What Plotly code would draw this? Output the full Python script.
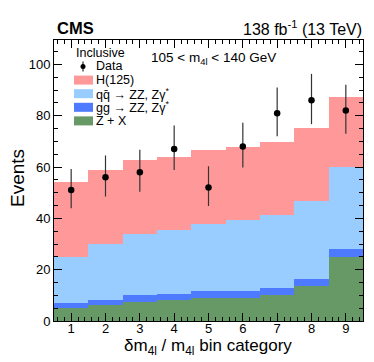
import plotly.graph_objects as go

# Catégories delta m4l / m4l
categories = [1, 2, 3, 4, 5, 6, 7, 8, 9]

# Rendements par processus (empilés)
zx = [4.9, 6.1, 7.4, 8.3, 9.1, 9.0, 10.0, 13.8, 24.9]
gg_zz = [2.3, 2.2, 2.6, 2.4, 2.6, 2.6, 2.9, 2.7, 3.3]
qq_zz = [17.8, 21.8, 24.0, 24.7, 26.2, 27.6, 28.5, 30.2, 31.7]
h125 = [29.2, 28.7, 28.8, 28.7, 28.7, 28.7, 28.4, 28.7, 27.4]

# Données observées et incertitudes (Garwood)
data = [51, 56, 58, 67, 52, 68, 81, 86, 82]
err_up = [8.2, 8.5, 8.7, 9.2, 8.3, 9.3, 10.0, 10.3, 10.1]
err_down = [7.1, 7.5, 7.6, 8.2, 7.2, 8.2, 9.0, 9.3, 9.0]

C_H = "#ff9999"
C_QQ = "#99ccff"
C_GG = "#4d7aff"
C_ZX = "#669966"
FONT = "Liberation Sans, Arial, sans-serif"

fig = go.Figure()
for vals, coul in [(zx, C_ZX), (gg_zz, C_GG), (qq_zz, C_QQ), (h125, C_H)]:
    fig.add_trace(go.Bar(x=categories, y=vals, width=1, marker=dict(color=coul, line=dict(width=0)),
                         showlegend=False, hoverinfo="skip"))

fig.add_trace(go.Scatter(
    x=categories, y=data, mode="markers",
    marker=dict(color="black", size=6.5),
    error_y=dict(type="data", symmetric=False, array=err_up, arrayminus=err_down,
                 color="#333333", thickness=1.2, width=0),
    showlegend=False))

axe = dict(ticks="inside", mirror="allticks", showline=True, linecolor="black", linewidth=1,
           showgrid=False, zeroline=False, tickcolor="black",
           tickfont=dict(family=FONT, size=13, color="black"))
fig.update_xaxes(range=[0.5, 9.5], tickvals=categories, ticklen=8, ticklabelstandoff=-5,
                 minor=dict(dtick=0.2, tick0=0, ticklen=4, ticks="inside", tickcolor="black"), **axe)
fig.update_yaxes(range=[0, 109.5], dtick=20, ticklen=8,
                 minor=dict(dtick=5, ticklen=4, ticks="inside", tickcolor="black"), **axe)

# positions en pixels convertis en coordonnées papier
L, R, T, B = 46, 355, 32, 313
def px(xp, yp):
    return (xp - L) / (R - L), (B - yp) / (B - T)

def texte(xp, yp, txt, taille, ancre="left", angle=0):
    x, y = px(xp, yp)
    return dict(x=x, y=y, xref="paper", yref="paper", text=txt, xanchor=ancre, yanchor="middle",
                font=dict(size=taille), textangle=angle, showarrow=False)

annots = [
    texte(47, 20, "<b>CMS</b>", 16.5),
    texte(356, 20, "138 fb<sup>-1</sup> (13 TeV)", 16, ancre="right"),
    texte(200, 339, "δm<sub>4l</sub> / m<sub>4l</sub> bin category", 17, ancre="center"),
    texte(9, 170, "Events", 19, ancre="center", angle=-90),
    texte(205, 50, "105 < m<sub>4l</sub> < 140 GeV", 13.5, ancre="center"),
    texte(66, 45, "Inclusive", 12.5),
]

legende = [("Data", None), ("H(125)", C_H), ("qq\u0304 → ZZ, Zγ<sup>*</sup>", C_QQ),
           ("gg → ZZ, Zγ<sup>*</sup>", C_GG), ("Z + X", C_ZX)]
shapes = []
for i, (txt, coul) in enumerate(legende):
    yc = 58.5 + i * 13.6
    annots.append(texte(86, yc, txt, 12.5))
    if coul:
        x0, y0 = px(66, yc - 4.5)
        x1, y1 = px(85, yc + 4.5)
        shapes.append(dict(type="rect", xref="paper", yref="paper", x0=x0, x1=x1, y0=y0, y1=y1,
                           fillcolor=coul, line=dict(width=0)))
    else:
        x0, y0 = px(75, yc - 5)
        x1, y1 = px(75, yc + 5)
        shapes.append(dict(type="line", xref="paper", yref="paper", x0=x0, x1=x1, y0=y0, y1=y1,
                           line=dict(color="black", width=1)))
        x0, y0 = px(72.5, yc - 2.5)
        x1, y1 = px(77.5, yc + 2.5)
        shapes.append(dict(type="circle", xref="paper", yref="paper", x0=x0, x1=x1, y0=y0, y1=y1,
                           fillcolor="black", line=dict(width=0)))

fig.update_layout(
    width=374, height=362, margin=dict(l=L, r=374 - R, t=T, b=362 - B),
    barmode="stack", bargap=0,
    plot_bgcolor="white", paper_bgcolor="white",
    font=dict(family=FONT, color="black"),
    annotations=annots, shapes=shapes,
)

fig.write_html("out.html")
